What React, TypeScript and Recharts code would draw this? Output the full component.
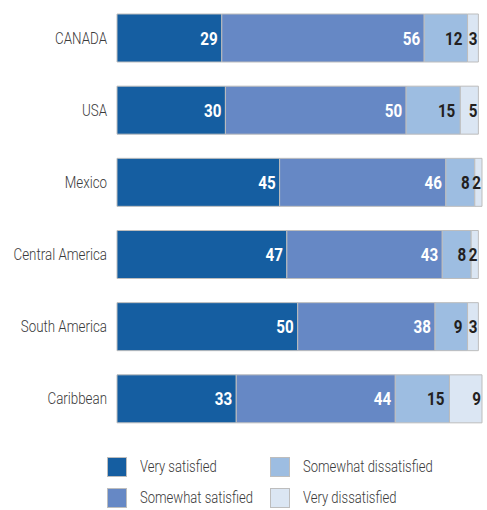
import { BarChart, Bar, XAxis, YAxis, LabelList } from "recharts";

const regions = ["CANADA", "USA", "Mexico", "Central America", "South America", "Caribbean"];
const verySatisfied = [29, 30, 45, 47, 50, 33];
const somewhatSatisfied = [56, 50, 46, 43, 38, 44];
const somewhatDissatisfied = [12, 15, 8, 8, 9, 15];
const veryDissatisfied = [3, 5, 2, 2, 3, 9];

const seriesNames = ["Very satisfied", "Somewhat satisfied", "Somewhat dissatisfied", "Very dissatisfied"];
const colors = ["#155ea1", "#6688c5", "#9dbde1", "#dbe6f3"];
const labelColors = ["#ffffff", "#ffffff", "#231f20", "#231f20"];
const labelPad = [4, 4, 5, 1];

const FONT = "Roboto, sans-serif";
const SQUEEZE = 0.8;

const data = regions.map((r, i) => ({
  region: r,
  s0: verySatisfied[i],
  s1: somewhatSatisfied[i],
  s2: somewhatDissatisfied[i],
  s3: veryDissatisfied[i],
}));

const makeLabel = (color: string, pad: number) => (props: any) => {
  const { x, y, width, height, value } = props;
  return (
    <text
      transform={`translate(${x + width - pad},${y + height / 2}) scale(${SQUEEZE},1)`}
      textAnchor="end"
      dominantBaseline="central"
      fill={color}
      fontSize={19}
      fontWeight="bold"
      fontFamily={FONT}
    >
      {value}
    </text>
  );
};

const RegionTick = (props: any) => {
  const { x, y, payload } = props;
  return (
    <text
      transform={`translate(${x},${y}) scale(${SQUEEZE},1)`}
      textAnchor="end"
      dominantBaseline="central"
      fill="#3a3a3a"
      fontSize={16.7}
      fontWeight={300}
      fontFamily={FONT}
    >
      {payload.value}
    </text>
  );
};

export default function App() {
  return (
    <div style={{ position: "absolute", left: 0, top: 0, width: 487, height: 510, background: "#fff", fontFamily: FONT }}>
      <BarChart
        width={487}
        height={440}
        data={data}
        layout="vertical"
        margin={{ top: 2, right: 5, left: 0, bottom: 5 }}
      >
        <XAxis type="number" domain={[0, 100]} hide />
        <YAxis
          type="category"
          dataKey="region"
          width={117}
          axisLine={false}
          tickLine={false}
          tickSize={0}
          tickMargin={10}
          tick={<RegionTick />}
        />
        {["s0", "s1", "s2", "s3"].map((k, i) => (
          <Bar
            key={k}
            dataKey={k}
            stackId="a"
            fill={colors[i]}
            stroke="#bdbdbd"
            strokeWidth={1}
            barSize={48}
            isAnimationActive={false}
          >
            <LabelList dataKey={k} content={makeLabel(labelColors[i], labelPad[i])} />
          </Bar>
        ))}
      </BarChart>
      <div style={{ position: "absolute", left: 107, top: 457, width: 380 }}>
        {[0, 1].map((row) => (
          <div key={row} style={{ display: "flex", height: 31 }}>
            {[row, row + 2].map((i, col) => (
              <div key={i} style={{ display: "flex", alignItems: "flex-start", width: col === 0 ? 163 : 200 }}>
                <div style={{ width: 20, height: 20, background: colors[i], border: "1px solid #bdbdbd", boxSizing: "border-box", flex: "none" }} />
                <span
                  style={{
                    marginLeft: 13,
                    fontSize: 16.3,
                    fontWeight: 300,
                    color: "#3a3a3a",
                    lineHeight: "19px",
                    whiteSpace: "nowrap",
                    display: "inline-block",
                    transform: `scaleX(${SQUEEZE})`,
                    transformOrigin: "left center",
                  }}
                >
                  {seriesNames[i]}
                </span>
              </div>
            ))}
          </div>
        ))}
      </div>
    </div>
  );
}
